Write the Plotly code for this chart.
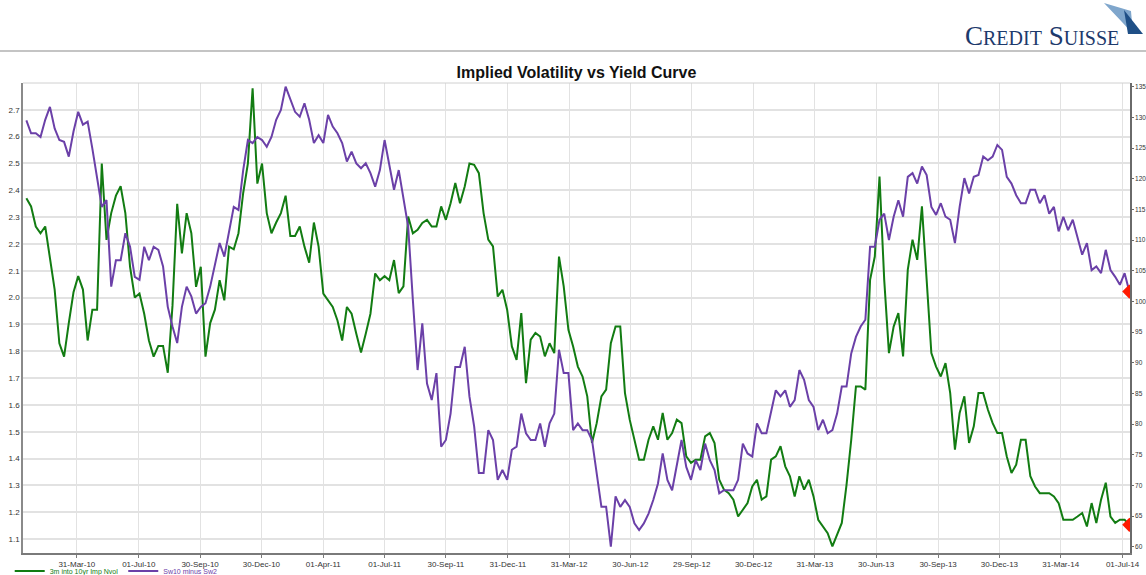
import pandas as pd
import plotly.graph_objects as go

# weekly readings, Jan-2010 .. Jul-2014
dates = pd.date_range("2010-01-15", periods=235, freq="7D")

nvol = [
    2.37, 2.34, 2.265, 2.24, 2.265, 2.14, 2.03, 1.83, 1.78, 1.905,
    2.02, 2.08, 2.03, 1.84, 1.955, 1.955, 2.5, 2.215, 2.315, 2.38,
    2.415, 2.315, 2.115, 2.0, 2.015, 1.94, 1.84, 1.78, 1.82, 1.82,
    1.72, 1.97, 2.35, 2.165, 2.315, 2.24, 2.04, 2.115, 1.78, 1.905,
    1.955, 2.065, 1.99, 2.19, 2.18, 2.24, 2.39, 2.5, 2.78, 2.425,
    2.5, 2.315, 2.24, 2.28, 2.315, 2.38, 2.23, 2.23, 2.265, 2.19,
    2.13, 2.28, 2.19, 2.015, 1.99, 1.965, 1.915, 1.84, 1.965, 1.94,
    1.865, 1.795, 1.865, 1.94, 2.09, 2.065, 2.08, 2.065, 2.14,
    2.017, 2.042, 2.302, 2.240, 2.253, 2.278, 2.290, 2.265, 2.265, 2.340,
    2.290, 2.352, 2.427, 2.352, 2.414, 2.5, 2.495, 2.464, 2.315, 2.216,
    2.191, 2.004, 2.029, 1.955, 1.818, 1.768, 1.942, 1.681, 1.843, 1.868,
    1.855, 1.781, 1.830, 1.793, 2.153, 2.042, 1.880, 1.818, 1.743, 1.706,
    1.632, 1.458, 1.532, 1.632, 1.657, 1.830, 1.892, 1.892, 1.644, 1.545,
    1.470, 1.396, 1.396, 1.470, 1.520, 1.470, 1.570, 1.470, 1.495, 1.545,
    1.532, 1.408, 1.384, 1.396, 1.396, 1.483, 1.495, 1.458, 1.321, 1.284,
    1.271, 1.247, 1.184, 1.209, 1.234, 1.296, 1.321, 1.247, 1.259,
    1.396, 1.408, 1.446, 1.371, 1.334, 1.259, 1.334, 1.284, 1.321, 1.259,
    1.172, 1.147, 1.122, 1.073, 1.116, 1.160, 1.302, 1.470, 1.669, 1.669,
    1.657, 2.066, 2.153, 2.451, 2.066, 1.793, 1.892, 1.942, 1.781, 2.104,
    2.216, 2.141, 2.340, 2.079, 1.793, 1.743, 1.706, 1.756, 1.644, 1.433,
    1.570, 1.632, 1.458, 1.520, 1.644, 1.644, 1.582, 1.532, 1.495, 1.495,
    1.408, 1.346, 1.377, 1.470, 1.470, 1.334, 1.296, 1.271, 1.271, 1.271,
    1.259, 1.234, 1.172, 1.172, 1.172, 1.184, 1.197, 1.147, 1.234, 1.160,
    1.247, 1.310, 1.184, 1.160, 1.172, 1.172, 1.153,
]

sw10_sw2 = [
    129.5, 127.4, 127.4, 126.8, 129.6, 131.7, 128.2, 126.3, 126.0, 123.6,
    127.7, 130.9, 128.8, 129.3, 124.9, 120.3, 115.4, 116.5, 102.4, 106.7,
    106.7, 111.1, 108.9, 104.0, 103.5, 108.9, 106.7, 108.9, 108.4, 105.7,
    99.1, 95.9, 93.2, 99.1, 102.4, 100.8, 98.0, 99.1, 99.7, 102.4,
    105.7, 109.5, 107.3, 111.1, 115.4, 114.9, 121.4, 126.3, 125.8, 126.8,
    126.3, 125.2, 126.8, 129.6, 131.2, 135.0, 132.8, 130.9, 130.1, 132.3,
    129.6, 125.8, 127.1, 125.8, 130.4, 128.5, 127.4, 125.8, 122.8, 124.4,
    122.5, 121.7, 122.5, 120.9, 118.7, 121.4, 126.3, 122.0, 118.2,
    121.4, 117.1, 112.2, 100.2, 88.8, 96.4, 86.6, 83.9, 88.3, 76.3,
    77.4, 81.7, 89.3, 89.3, 92.6, 84.5, 79.6, 72.0, 72.0, 79.0,
    77.4, 70.9, 72.5, 70.9, 75.8, 76.3, 81.7, 78.5, 77.4, 77.4,
    80.1, 76.3, 80.1, 81.7, 92.1, 88.3, 88.3, 79.0, 80.1, 79.0,
    79.0, 77.4, 72.0, 66.5, 66.5, 60.0, 68.2, 66.5, 67.6, 66.5,
    63.8, 62.7, 63.8, 65.4, 67.6, 70.3, 75.2, 70.9, 69.2, 73.0,
    77.4, 73.0, 70.9, 74.1, 72.5, 76.8, 74.1, 72.5, 68.7, 69.2,
    69.2, 69.2, 70.9, 76.8, 75.2, 74.7, 80.1, 78.5, 78.5,
    82.3, 85.5, 84.5, 85.5, 82.8, 83.9, 88.8, 87.2, 83.9, 82.8,
    79.0, 80.7, 78.5, 79.0, 81.7, 86.1, 86.1, 91.5, 94.2, 95.9,
    97.0, 108.9, 108.9, 113.3, 114.3, 110.0, 113.8, 116.5, 113.8, 120.3,
    120.9, 119.2, 122.0, 120.6, 115.4, 114.1, 116.0, 113.8, 113.3, 109.5,
    115.4, 120.1, 117.6, 120.3, 120.6, 123.6, 123.0, 123.6, 125.5, 124.7,
    120.3, 119.2, 117.3, 116.0, 116.0, 118.2, 118.2, 116.0, 117.3, 114.3,
    115.4, 111.4, 113.8, 111.6, 113.3, 110.5, 107.6, 109.5, 105.1, 105.7,
    104.6, 108.4, 105.1, 104.0, 102.7, 104.6, 101.6,
]

tick_dates = ["2010-03-31", "2010-07-01", "2010-09-30", "2010-12-30", "2011-04-01",
              "2011-07-01", "2011-09-30", "2011-12-31", "2012-03-31", "2012-06-30",
              "2012-09-29", "2012-12-30", "2013-03-31", "2013-06-30", "2013-09-30",
              "2013-12-30", "2014-03-31", "2014-07-01"]
tick_labels = ["31-Mar-10", "01-Jul-10", "30-Sep-10", "30-Dec-10", "01-Apr-11",
               "01-Jul-11", "30-Sep-11", "31-Dec-11", "31-Mar-12", "30-Jun-12",
               "29-Sep-12", "30-Dec-12", "31-Mar-13", "30-Jun-13", "30-Sep-13",
               "30-Dec-13", "31-Mar-14", "01-Jul-14"]

GREEN = "#127c12"
PURPLE = "#6b40a8"
W, H = 1146, 575
ML, MR, MT, MB = 23, 16, 83, 22
pw, ph = W - ML - MR, H - MT - MB


def px(x, y):
    # pixel position -> paper coords (for header decorations only)
    return (x - ML) / pw, (H - MB - y) / ph


fig = go.Figure()
fig.add_trace(go.Scatter(x=dates, y=nvol, mode="lines",
                         name="<span style='color:%s'>3m into 10yr Imp Nvol</span>" % GREEN,
                         line=dict(color=GREEN, width=2)))
fig.add_trace(go.Scatter(x=dates, y=sw10_sw2, mode="lines", yaxis="y2",
                         name="<span style='color:%s'>Sw10 minus Sw2</span>" % PURPLE,
                         line=dict(color=PURPLE, width=2)))
# last-value markers
fig.add_trace(go.Scatter(x=[dates[-1]], y=[nvol[-1]], mode="markers", showlegend=False,
                         marker=dict(symbol="diamond", size=11, color="#ff1a00")))
fig.add_trace(go.Scatter(x=[dates[-1]], y=[sw10_sw2[-1]], mode="markers", yaxis="y2",
                         showlegend=False,
                         marker=dict(symbol="diamond", size=11, color="#ff1a00")))

tickfont = dict(family="Liberation Sans, Arial", size=8, color="#333")

shapes = []
x0, y0 = px(0, 51)
x1, _ = px(W, 51)
shapes.append(dict(type="line", xref="paper", yref="paper", x0=x0, x1=x1, y0=y0, y1=y0,
                   line=dict(color="#c4c4c4", width=2)))
shapes.append(dict(type="line", xref="paper", yref="paper", x0=0, x1=1, y0=1, y1=1,
                   line=dict(color="#d0d0d0", width=1)))


def poly(pts, color):
    p = [px(a, b) for a, b in pts]
    path = "M " + " L ".join("%f,%f" % q for q in p) + " Z"
    return dict(type="path", xref="paper", yref="paper", path=path,
                fillcolor=color, line=dict(width=0))


shapes.append(poly([(1104, 3), (1131, 11), (1133, 34), (1122, 22)], "#7fa6cc"))
shapes.append(poly([(1124, 10), (1143, 34), (1128, 34)], "#1f4f86"))

lx, ly = px(963, 36)
annotations = [dict(xref="paper", yref="paper", x=lx, y=ly, xanchor="left", yanchor="middle",
                    showarrow=False,
                    text="C<span style='font-size:20px'>REDIT</span> S<span style='font-size:20px'>UISSE</span>",
                    font=dict(family="Liberation Serif, serif", size=27, color="#1d3a6c"))]

fig.update_layout(
    width=W, height=H,
    margin=dict(l=ML, r=MR, t=MT, b=MB, autoexpand=False),
    paper_bgcolor="white", plot_bgcolor="white",
    title=dict(text="<b>Implied Volatility vs Yield Curve</b>", xref="paper", x=0.5,
               y=1 - 72 / H, yanchor="middle",
               font=dict(family="Liberation Sans, Arial", size=16, color="#111")),
    xaxis=dict(type="date", range=["2010-01-10", "2014-07-12"],
               tickvals=tick_dates, ticktext=tick_labels, tickfont=tickfont,
               showgrid=True, gridcolor="#e2e2e2", gridwidth=1,
               showline=True, linecolor="#7a7a7a", linewidth=1.5,
               ticks="outside", ticklen=3, tickcolor="#7a7a7a", zeroline=False),
    yaxis=dict(range=[1.048, 2.80], tickvals=[1.1 + 0.1 * k for k in range(17)],
               tickformat=".1f", tickfont=tickfont,
               showgrid=True, gridcolor="#e2e2e2", gridwidth=1.5,
               showline=True, linecolor="#8a8a8a", linewidth=1.5, ticks="", zeroline=False),
    yaxis2=dict(range=[58.97, 135.6], overlaying="y", side="right",
                tickvals=list(range(60, 136, 5)),
                tickfont=dict(family="Liberation Sans Narrow, Liberation Sans, Arial", size=6.5, color="#333"),
                showgrid=False, showline=True, linecolor="#6a6a6a", linewidth=1.5,
                ticks="outside", ticklen=2, tickcolor="#6a6a6a", zeroline=False),
    legend=dict(orientation="h", x=-0.012, y=1 - 571 / H, yref="container",
                xanchor="left", yanchor="middle",
                font=dict(family="Liberation Sans, Arial", size=7), itemwidth=30,
                bgcolor="rgba(0,0,0,0)", tracegroupgap=0),
    shapes=shapes,
    annotations=annotations,
)

fig.write_html("out.html", config={"displayModeBar": False},
               post_script="document.body.style.margin='0';document.body.style.overflow='hidden';")
